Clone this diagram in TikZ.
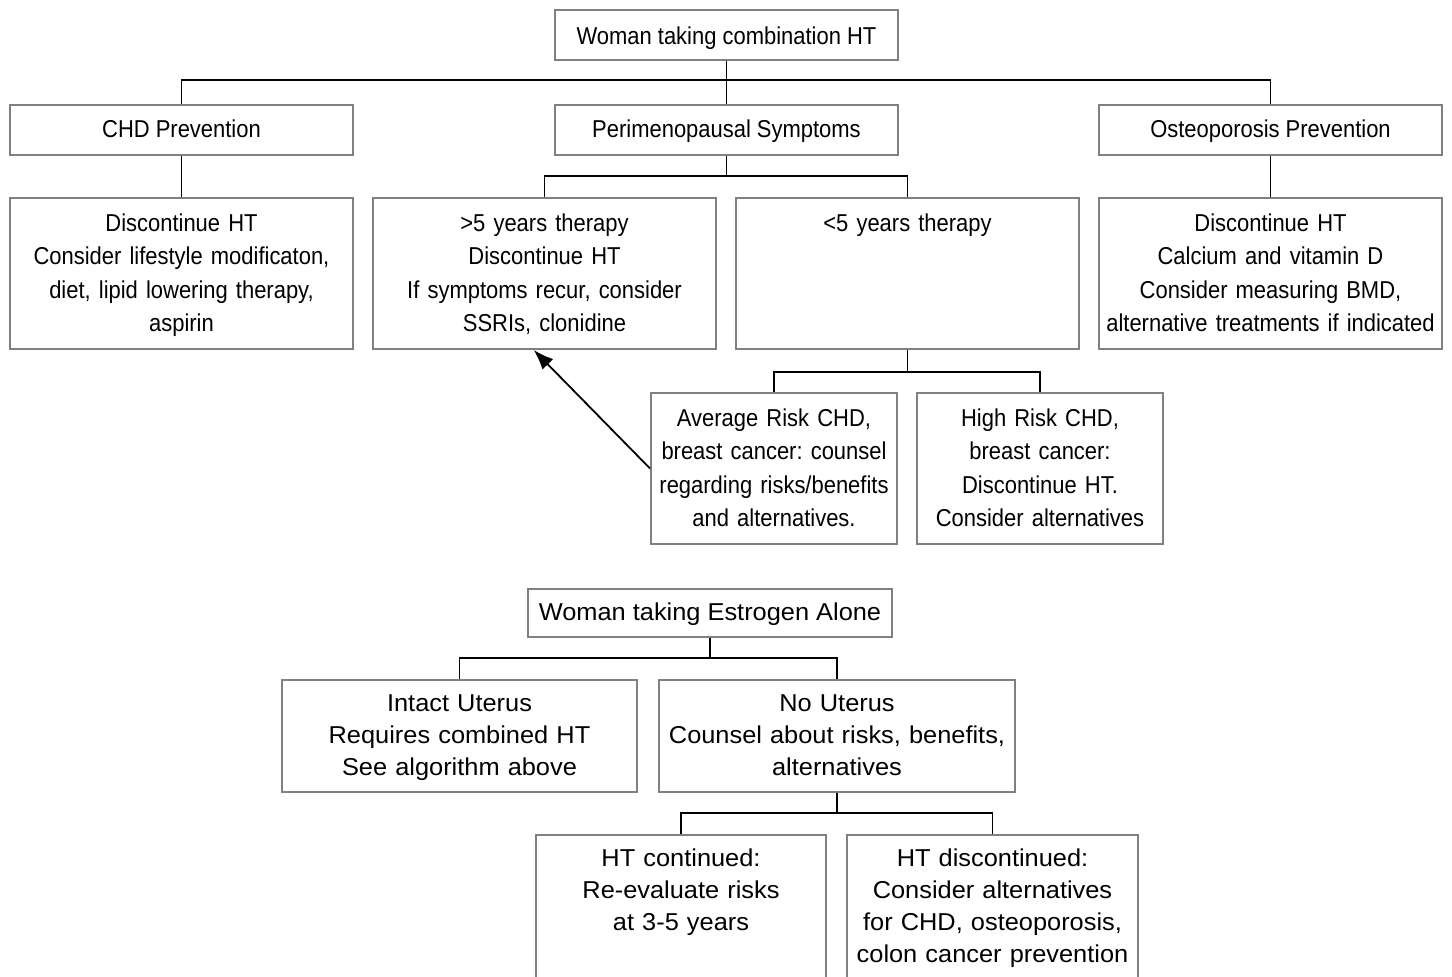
\documentclass[tikz,border=0pt]{standalone}
\usepackage{fontspec}
\setmainfont{Liberation Sans}
\newfontfamily\narrowfont[FakeStretch=0.9]{Liberation Sans}
\newfontfamily\widefont[FakeStretch=1.04]{Liberation Sans}
\usepackage{tikz}
\usetikzlibrary{arrows}
\usetikzlibrary{arrows.meta}
\tikzset{>=latex}
\frenchspacing
\tikzstyle{box} = [draw=gray, line width = 1pt, align = center, inner sep = 0, text = black]
\tikzstyle{top} = [box, font = \narrowfont\fontsize{12.2}{16.75}\selectfont]
\tikzstyle{bot} = [box, font = \widefont\fontsize{12.2}{16}\selectfont]
\tikzstyle{head} = [minimum width = 171.5pt, minimum height = 25pt, text height = 9.3pt, text depth = 2pt]
\tikzstyle{tall} = [text width = 171.5pt, text height = 16.75pt, text depth = 58.75pt]
\tikzstyle{risk} = [text width = 123pt, text height = 16.75pt, text depth = 58.75pt]
\tikzstyle{link} = [-, line width = 0.9pt, black]

\begin{document}
\begin{tikzpicture}[x = 0.5pt, y = -0.5pt]
\useasboundingbox (0, 0) rectangle (1452, 977);
\clip (0, 0) rectangle (1452, 977);
% combination HT
\node [top, head, text height = 10.3pt, text depth = 1pt] (combo) at (726.5, 35) {Woman taking combination HT};
\node [top, head] (chd) at (181.5, 130) {CHD Prevention};
\node [top, head] (peri) at (726.5, 130) {Perimenopausal Symptoms};
\node [top, head] (osteo) at (1270.5, 130) {Osteoporosis Prevention};
\node [top, tall] (chdstop) at (181.5, 273.5) {Discontinue HT\\Consider lifestyle modificaton,\\diet, lipid lowering therapy,\\aspirin};
\node [top, tall] (over5) at (544.5, 273.5) {>5 years therapy\\Discontinue HT\\If symptoms recur, consider\\SSRIs, clonidine};
\node [top, tall] (under5) at (907.5, 273.5) {<5 years therapy};
\node [top, tall] (osteostop) at (1270.5, 273.5) {Discontinue HT\\Calcium and vitamin D\\Consider measuring BMD,\\alternative treatments if indicated};
\node [top, risk] (avg) at (774, 468.5) {Average Risk CHD,\\breast cancer: counsel\\regarding risks/benefits\\and alternatives.};
\node [top, risk] (high) at (1040, 468.5) {High Risk CHD,\\breast cancer:\\Discontinue HT.\\Consider alternatives};
\coordinate (b1) at (726.5, 80);
\coordinate (b2) at (726.5, 176);
\coordinate (b3) at (907.5, 372);
\draw [link] (combo) to (peri);
\draw [link] (chd.north) |- (b1) -| (osteo.north);
\draw [link] (chd) to (chdstop);
\draw [link] (osteo) to (osteostop);
\draw [link] (peri) to (b2);
\draw [link] (over5.north) |- (b2) -| (under5.north);
\draw [link] (under5) to (b3);
\draw [link] (avg.north) |- (b3) -| (high.north);
\draw [-{Latex[length = 10pt, width = 7.5pt]}, line width = 0.9pt] (avg.west) to (over5.-98);
% estrogen alone
\node [bot, minimum width = 182pt, minimum height = 24pt, text height = 9.7pt, text depth = 2pt] (est) at (710, 613) {Woman taking Estrogen Alone};
\node [bot, text width = 177.5pt, text height = 15.85pt, text depth = 40.15pt] (intact) at (459.5, 736) {Intact Uterus\\Requires combined HT\\See algorithm above};
\node [bot, text width = 178pt, text height = 15.85pt, text depth = 40.15pt] (nouterus) at (837, 736) {No Uterus\\Counsel about risks, benefits,\\alternatives};
\node [bot, text width = 145pt, text height = 15.75pt, text depth = 66.75pt] (htcont) at (681, 917.5) {HT continued:\\Re-evaluate risks\\at 3-5 years};
\node [bot, text width = 145.5pt, text height = 15.75pt, text depth = 66.75pt] (htdisc) at (992.5, 917.5) {HT discontinued:\\Consider alternatives\\for CHD, osteoporosis,\\colon cancer prevention};
\coordinate (b4) at (710, 658);
\coordinate (b5) at (837, 813);
\draw [link] (est) to (b4);
\draw [link] (intact.north) |- (b4) -| (nouterus.north);
\draw [link] (nouterus) to (b5);
\draw [link] (htcont.north) |- (b5) -| (htdisc.north);
\end{tikzpicture}
\end{document}
